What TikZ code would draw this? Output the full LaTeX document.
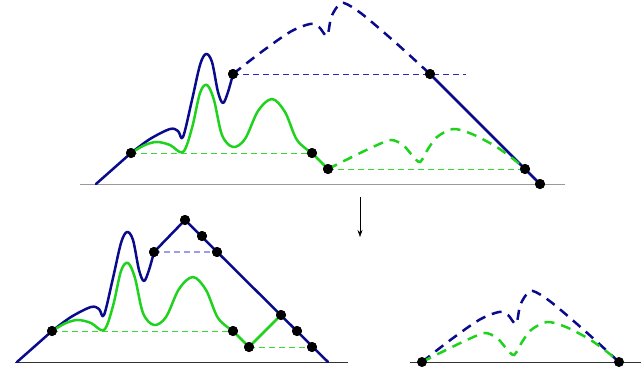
\documentclass[tikz,border=0pt]{standalone}
\usepackage{tikz}
\usetikzlibrary{arrows.meta, positioning}
\definecolor{pathblue}{HTML}{0A0A8C}
\definecolor{pathgreen}{HTML}{1ED21E}
\definecolor{levelblue}{HTML}{2828C8}
\definecolor{levelgreen}{HTML}{32DC32}
\tikzset{
  % Solid path pieces
  bluepath/.style={draw=pathblue, line width=2.5pt, line cap=round, line join=round},
  greenpath/.style={draw=pathgreen, line width=2.5pt, line cap=round, line join=round},
  % Dashed continuations
  bluedash/.style={draw=pathblue, line width=2.5pt, dash pattern=on 10pt off 7pt},
  greendash/.style={draw=pathgreen, line width=2.5pt, dash pattern=on 10pt off 7pt},
  % Level lines
  bluelevel/.style={draw=levelblue, line width=0.9pt, dash pattern=on 6pt off 4pt},
  greenlevel/.style={draw=levelgreen, line width=1pt, dash pattern=on 6pt off 4pt},
  % Ground lines
  groundline/.style={draw=#1, line width=1pt},
  groundline/.default={gray!80},
  % Marked points
  dot/.style={circle, fill=black, inner sep=0pt, minimum size=10pt},
  myarrow/.style={-{Stealth[length=7pt, width=5pt]}, line width=0.6pt},
}
% curve shapes (top picture coordinates)
\newcommand{\blueclimb}{(96,184) -- plot[smooth, tension=0.55] coordinates {(131,153) (150,139) (170,129) (178,131) (183,137) (192,100) (200,65) (206,54) (212,62) (218,92) (223,103) (228,92) (233,74)}}
\newcommand{\greenwave}{plot[smooth, tension=0.55] coordinates {(131,153) (145,145) (157,142) (170,145) (183,152) (192,128) (200,93) (207,85) (214,100) (222,135) (233,147) (245,139) (258,111) (272,99) (285,112) (297,140) (312,153)}}
\newcommand{\bluetail}{plot[smooth, tension=0.5] coordinates {(233,74) (260,53) (290,32) (310,24) (319,27) (327,36) (331,18) (337,7) (344,3) (362,14) (396,43) (430,74)}}
\newcommand{\greentail}{plot[smooth, tension=0.5] coordinates {(328,169) (352,157) (375,146) (391,140) (403,145) (412,155) (420,162) (428,149) (437,137) (453,129) (472,134) (495,146) (512,158) (525,169)}}
\begin{document}
\begin{tikzpicture}[x=1pt, y=-1pt]
  \useasboundingbox (0,0) rectangle (641,367);

  % Top picture
  \coordinate (g1l) at (80,184);
  \coordinate (g1r) at (565,184);
  \coordinate (blueend) at (466,74);
  \draw[groundline] (g1l) -- (g1r);

  \node[dot] (t1) at (131,153) {};
  \node[dot] (t2) at (233,74) {};
  \node[dot] (t3) at (430,74) {};
  \node[dot] (t4) at (312,153) {};
  \node[dot] (t5) at (328,169) {};
  \node[dot] (t6) at (525,169) {};
  \node[dot] (t7) at (540,184) {};

  \draw[bluelevel] (t2.center) -- (blueend);
  \draw[greenlevel] (t1.center) -- (t4.center);
  \draw[greenlevel] (t5.center) -- (t6.center);

  \draw[bluepath] \blueclimb;
  \draw[bluedash] \bluetail;
  \draw[bluepath] (t3.center) -- (t7.center);
  \draw[greenpath] \greenwave -- (t5.center);
  \draw[greendash] \greentail;

  \foreach \p in {t1,t2,t3,t4,t5,t6,t7} \node[dot] at (\p) {};

  % Arrow
  \coordinate (arrtop) at (360,197);
  \coordinate (arrbot) at (360,237);
  \draw[myarrow] (arrtop) -- (arrbot);

  % Bottom left picture
  \coordinate (g2l) at (15,362);
  \coordinate (g2r) at (348,362);
  \coordinate (bend) at (328,362);
  \draw[groundline=black!80] (g2l) -- (g2r);

  \node[dot] (b1) at (52,331) {};
  \node[dot] (b2) at (154,252) {};
  \node[dot] (b3) at (185,220) {};
  \node[dot] (b4) at (202,236) {};
  \node[dot] (b5) at (217,252) {};
  \node[dot] (b6) at (233,331) {};
  \node[dot] (b7) at (249,347) {};
  \node[dot] (b8) at (281,315) {};
  \node[dot] (b9) at (297,331) {};
  \node[dot] (b10) at (312,347) {};

  \draw[draw=levelblue!45, line width=1.6pt, dash pattern=on 6pt off 4pt] (b2.center) -- (b5.center);
  \draw[greenlevel] (b1.center) -- (b6.center);
  \draw[greenlevel] (b7.center) -- (b10.center);

  \begin{scope}[shift={(-79,178)}]
    \draw[bluepath] \blueclimb;
    \draw[greenpath] \greenwave;
  \end{scope}
  \draw[bluepath] (b2.center) -- (b3.center) -- (bend);
  \draw[greenpath] (b6.center) -- (b7.center) -- (b8.center);

  \foreach \p in {b1,b2,b3,b4,b5,b6,b7,b8,b9,b10} \node[dot] at (\p) {};

  % Bottom right picture
  \coordinate (g3l) at (410,362);
  \coordinate (g3r) at (641,362);
  \draw[groundline=black!80] (g3l) -- (g3r);

  \begin{scope}[shift={(189,288)}]
    \draw[bluedash] \bluetail;
  \end{scope}
  \begin{scope}[shift={(94,193)}]
    \draw[greendash] \greentail;
  \end{scope}

  \node[dot] (r1) at (422,362) {};
  \node[dot] (r2) at (619,362) {};
\end{tikzpicture}
\end{document}
